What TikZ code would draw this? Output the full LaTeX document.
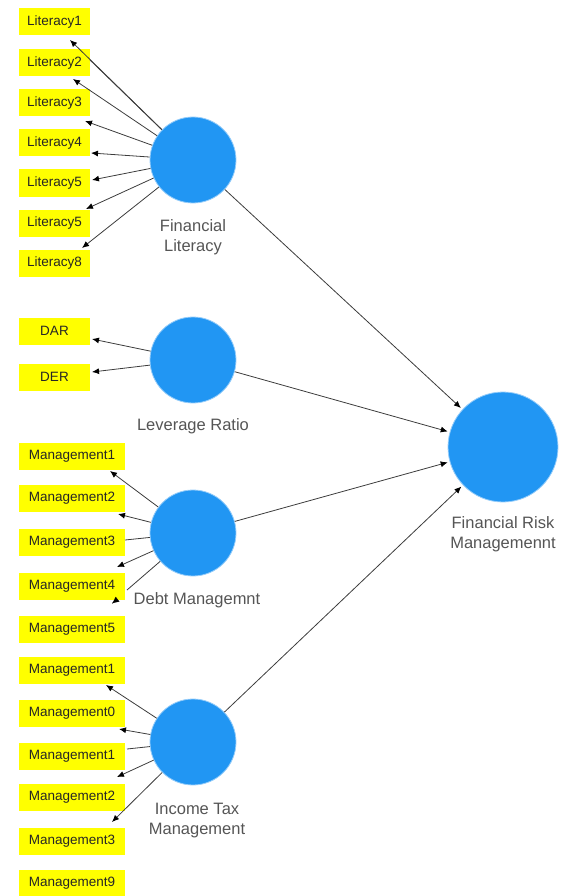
\documentclass[tikz,border=0pt]{standalone}
\usepackage{fontspec}
\setmainfont{Liberation Sans}
\usetikzlibrary{arrows.meta}
\definecolor{cblue}{RGB}{33,150,243}
\definecolor{chalo}{RGB}{150,205,250}
\definecolor{cyel}{RGB}{255,255,0}
\definecolor{cline}{RGB}{60,60,60}
\definecolor{clab}{RGB}{85,85,85}
\tikzset{
  ind/.style={fill=cyel, draw=none, minimum height=27pt, inner sep=0pt, font=\fontsize{13.5}{15}\selectfont, text=black!85},
  litbox/.style={ind, minimum width=71pt},
  manbox/.style={ind, minimum width=106pt},
  lv/.style={circle, fill=cblue, draw=chalo, line width=0.8pt, minimum size=86pt, inner sep=0pt},
  lvbig/.style={lv, minimum size=110pt},
  lab/.style={text=clab, font=\fontsize{16.5}{20}\selectfont, align=center},
  arr/.style={draw=cline, line width=0.8pt, -{Latex[length=7pt,width=6pt,black]}},
  pln/.style={draw=cline, line width=0.8pt},
}
\begin{document}
\begin{tikzpicture}[x=1pt,y=-1pt]
\useasboundingbox (0,0) rectangle (565,896);
% indicator boxes
\node[litbox] (l1) at (54.5,22) {Literacy1};
\node[litbox] (l2) at (54.5,63) {Literacy2};
\node[litbox] (l3) at (54.5,103) {Literacy3};
\node[litbox] (l4) at (54.5,143) {Literacy4};
\node[litbox] (l5) at (54.5,183) {Literacy5};
\node[litbox] (l6) at (54.5,223) {Literacy5};
\node[litbox] (l7) at (54.5,263) {Literacy8};
\node[litbox] (dar) at (54.5,331) {DAR};
\node[litbox] (der) at (54.5,377) {DER};
\node[manbox] (d1) at (72,456) {Management1};
\node[manbox] (d2) at (72,498) {Management2};
\node[manbox] (d3) at (72,542) {Management3};
\node[manbox] (d4) at (72,586) {Management4};
\node[manbox] (d5) at (72,629) {Management5};
\node[manbox] (t1) at (72,670) {Management1};
\node[manbox] (t2) at (72,713) {Management0};
\node[manbox] (t3) at (72,756) {Management1};
\node[manbox] (t4) at (72,797) {Management2};
\node[manbox] (t5) at (72,841) {Management3};
\node[manbox] (t6) at (72,883) {Management9};
% latent variables
\node[lv] (fl) at (193,160) {};
\node[lv] (lr) at (193,360) {};
\node[lv] (dm) at (193,533) {};
\node[lv] (it) at (193,742) {};
\node[lvbig] (frm) at (503,447) {};
% labels
\node[lab] (flt) at (193,237) {Financial\\Literacy};
\node[lab] (lrt) at (193,426) {Leverage Ratio};
\node[lab] (dmt) at (197,600) {Debt Managemnt};
\node[lab] (itt) at (197,821) {Income Tax\\Management};
\node[lab] (frmt) at (503,534) {Financial Risk\\Managemennt};
% free ends
\coordinate (e1) at (70,40);
\coordinate (e2) at (90,60);
\coordinate (e3) at (73,79);
\coordinate (e4) at (85,121);
\coordinate (e5) at (91,153);
\coordinate (e6) at (92,180);
\coordinate (e7) at (86,209);
\coordinate (e8) at (82,248);
\coordinate (r1) at (92,339);
\coordinate (r2) at (92,372);
\coordinate (m1) at (110,471);
\coordinate (m2) at (118,514);
\coordinate (m3) at (125,540);
\coordinate (m4) at (117,567);
\coordinate (m5) at (127,590);
\coordinate (m6a) at (116.5,600);
\coordinate (m6b) at (112,603.5);
\coordinate (n1) at (106,685);
\coordinate (n2) at (119,729);
\coordinate (n3) at (127,749);
\coordinate (n4) at (117,777);
\coordinate (n5) at (112,822);
% connectors
\draw[arr] (fl) -- (e1);
\draw[pln] (fl) -- (e2);
\draw[arr] (fl) -- (e3);
\draw[arr] (fl) -- (e4);
\draw[arr] (fl) -- (e5);
\draw[arr] (fl) -- (e6);
\draw[arr] (fl) -- (e7);
\draw[arr] (fl) -- (e8);
\draw[arr] (lr) -- (r1);
\draw[arr] (lr) -- (r2);
\draw[arr] (dm) -- (m1);
\draw[arr] (dm) -- (m2);
\draw[pln] (dm) -- (m3);
\draw[arr] (dm) -- (m4);
\draw[pln] (dm) -- (m5);
\draw[arr, line width=0.1pt] (m6a) -- (m6b);
\draw[arr] (it) -- (n1);
\draw[arr] (it) -- (n2);
\draw[pln] (it) -- (n3);
\draw[arr] (it) -- (n4);
\draw[arr] (it) -- (n5);
\draw[arr, shorten >=2pt] (fl) -- (frm);
\draw[arr, shorten >=2pt] (lr) -- (frm);
\draw[arr, shorten >=2pt] (dm) -- (frm);
\draw[arr, shorten >=2pt] (it) -- (frm);
\end{tikzpicture}
\end{document}
